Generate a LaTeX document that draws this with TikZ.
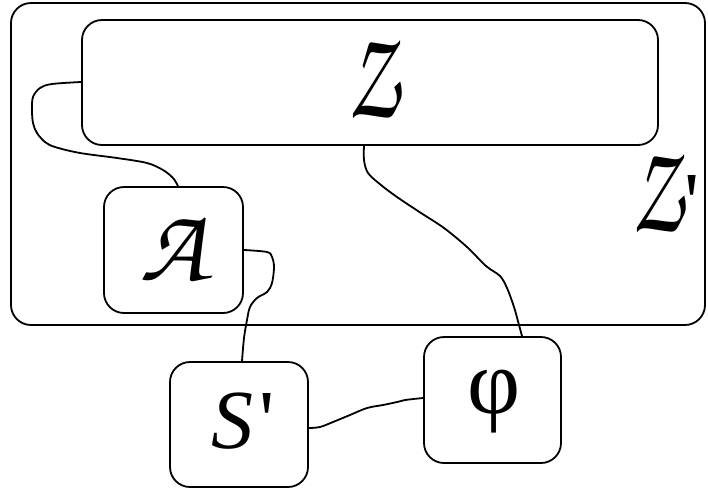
\documentclass[tikz,border=0pt]{standalone}
\usepackage{fontspec}
\usepackage{graphicx}
\usetikzlibrary{calc}
\setmainfont{Liberation Serif}
\newfontfamily\chorus{texgyrechorus-mediumitalic.otf}
\newfontfamily\timesit{Liberation Serif Italic}[Ligatures=ResetAll]
\newfontfamily\timesup{Liberation Serif}[Ligatures=ResetAll]
\newcommand{\prm}{{\timesup\fontsize{84}{84}\selectfont '}}
\newcommand{\calZ}{\scalebox{0.75}[1.2]{\chorus\fontsize{106}{106}\selectfont Z}}
\begin{document}
\begin{tikzpicture}[x=1pt,y=-1pt,
  box/.style={draw,line width=1.8pt,rounded corners=20pt,inner sep=0pt},
  wire/.style={line width=1.8pt},
  lab/.style={font=\timesit\fontsize{84}{84}\selectfont,inner sep=0pt},
  cal/.style={font=\chorus\fontsize{106}{106}\selectfont,inner sep=0pt}]
\useasboundingbox (0,0) rectangle (708,491);
\node[box,minimum width=694pt,minimum height=322pt] (Zp) at (358,164) {};
\node[box,minimum width=576pt,minimum height=125pt] (Z) at (370,82.5) {};
\node[inner sep=0pt] at (373,80) {\calZ};
\node[inner sep=0pt] (zplab) at (666,194) {\calZ\kern3pt\prm};
\node[box,minimum width=139pt,minimum height=126pt] (A) at (173.5,250) {};
\node[cal] at (A.center) {A};
\node[box,minimum width=138pt,minimum height=125pt] (S) at (239,424.5) {};
\node[lab] at (243,421) {S\kern6pt\prm};
\node[box,minimum width=137pt,minimum height=126pt] (phi) at (492.5,400) {};
\node[font=\fontsize{92}{92}\selectfont,inner sep=0pt] at (494,402) {φ};
\draw[wire] plot[smooth,tension=0.55] coordinates {($(Z.west)+(0,-0.5)$) (52,84) (40,88) (33,97) (32,110) (33,123) (37,133) (45,142) (55,147) (80,153) (117,158) (147,163) (163,170) (173,178) ($(A.north)+(4.5,0)$)};
\draw[wire] plot[smooth,tension=0.55] coordinates {($(A.east)+(0,0)$) (267,252) (272,257) (274,267) (272,283) (267,292) (257,298) (250,307) (247,320) (244,338) ($(S.north)+(3,0)$)};
\draw[wire] plot[smooth,tension=0.55] coordinates {($(Z.south)+(-6,0)$) (364,160) (368,173) (381,185) (397,197) (421,213) (444,228) (467,247) (486,266) (500,276) (507,288) (514,307) (519,325) ($(phi.north)+(29.5,0)$)};
\draw[wire] plot[smooth,tension=0.55] coordinates {($(S.east)+(0,3.5)$) (320,427) (333,422) (350,415) (367,408) (383,405) (397,402) (405,400) ($(phi.west)+(0,-2)$)};
\end{tikzpicture}
\end{document}
